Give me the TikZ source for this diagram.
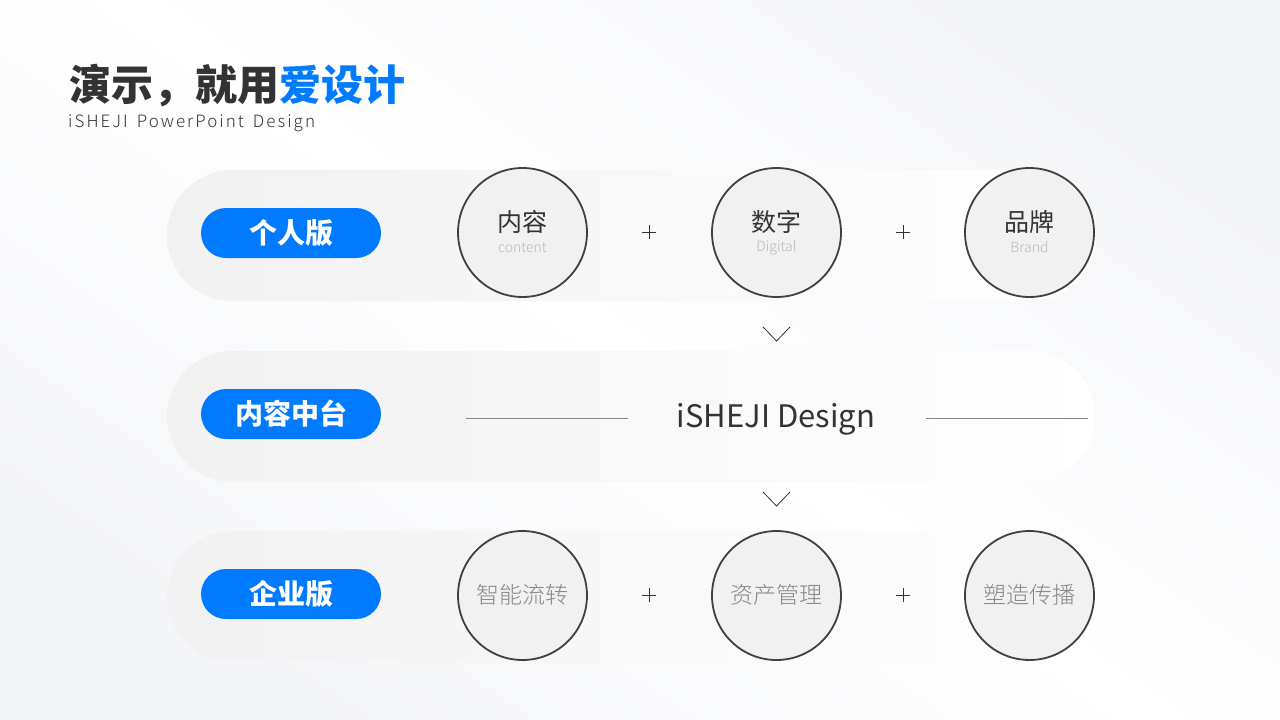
\documentclass[tikz,border=0pt]{standalone}
\usepackage{fontspec}
\setmainfont{Noto Sans CJK SC}
\newfontfamily\cjklight{Noto Sans CJK SC Light}
\definecolor{brand}{RGB}{0,122,255}
\definecolor{bgA}{RGB}{244,245,248}
\definecolor{bandL}{RGB}{241,241,242}
\definecolor{ring}{RGB}{64,64,64}
\definecolor{dark}{RGB}{51,51,51}
\definecolor{subgray}{RGB}{185,185,185}
\definecolor{midgray}{RGB}{135,135,135}
\tikzset{
  x=1pt, y=-1pt,
  band/.style={minimum width=928pt, minimum height=131pt, rounded corners=65.5pt, inner sep=0pt, left color=bandL, right color=white, draw=none},
  pill/.style={minimum width=180pt, minimum height=50pt, rounded corners=25pt, fill=brand, text=white, inner sep=0pt, font=\fontsize{28}{30}\selectfont\bfseries},
  ball/.style={circle, minimum size=129pt, inner sep=0pt, fill=bandL, draw=ring, line width=1.8pt},
  cn/.style={text=dark, inner sep=0pt, font=\fontsize{25}{27}\selectfont},
  en/.style={text=subgray, inner sep=0pt, font=\cjklight\fontsize{14}{16}\selectfont},
  cn3/.style={text=midgray, inner sep=0pt, font=\cjklight\fontsize{23}{25}\selectfont},
  plusline/.style={draw=dark, line width=0.9pt},
  chev/.style={draw=dark, line width=0.8pt},
  rule/.style={draw=midgray, line width=0.8pt}
}
\begin{document}
\begin{tikzpicture}
% background
\useasboundingbox (0,0) rectangle (1280,720);
\shade[top color=bgA, bottom color=bgA, middle color=white, shading angle=-35] (0,0) rectangle (1280,720);
% title
\node[anchor=base west, inner sep=0pt, text=dark, font=\fontsize{42}{44}\selectfont\bfseries] (title) at (69,100) {演示，就用\textcolor{brand}{爱设计}};
\node[anchor=base west, inner sep=0pt, text=dark, font=\cjklight\fontsize{17}{19}\selectfont\addfontfeature{LetterSpace=12}] (subtitle) at (68,127) {iSHEJI\hspace{9pt}PowerPoint\hspace{9pt}Design};
% bands
\node[band] (b1) at (631,235.5) {};
\node[band] (b2) at (631,416.5) {};
\node[band] (b3) at (631,596.5) {};
% pills
\node[pill] (p1) at (291,233) {个人版};
\node[pill] (p2) at (291,414) {内容中台};
\node[pill] (p3) at (291,594) {企业版};
% row 1 circles
\node[ball] (c11) at (522.5,232.5) {};
\node[ball] (c12) at (776.5,232.5) {};
\node[ball] (c13) at (1029.5,232.5) {};
\node[cn] (t11) at (522.5,222) {内容};
\node[en] (e11) at (522.5,247.5) {content};
\node[cn] (t12) at (776.5,222) {数字};
\node[en] (e12) at (776.5,247.5) {Digital};
\node[cn] (t13) at (1029.5,222) {品牌};
\node[en] (e13) at (1029.5,247.5) {Brand};
% row 3 circles
\node[ball] (c31) at (522.5,595.5) {};
\node[ball] (c32) at (776.5,595.5) {};
\node[ball] (c33) at (1029.5,595.5) {};
\node[cn3] (t31) at (522.5,595) {智能流转};
\node[cn3] (t32) at (776.5,595) {资产管理};
\node[cn3] (t33) at (1029.5,595) {塑造传播};
% plus signs
\foreach \px/\py in {649/232, 903/232, 649/595, 903/595}{
  \draw[plusline] (\px-7,\py) -- (\px+7,\py);
  \draw[plusline] (\px,\py-7) -- (\px,\py+7);
}
% chevrons
\draw[chev] (763,327) -- (776.5,341) -- (790,327);
\draw[chev] (763,492) -- (776.5,506) -- (790,492);
% row 2 text and rules
\node[text=dark, inner sep=0pt, font=\fontsize{31}{33}\selectfont] (mid) at (776,419) {iSHEJI Design};
\coordinate (l1) at (466,418.5);
\coordinate (l2) at (628,418.5);
\coordinate (r1) at (926,418.5);
\coordinate (r2) at (1088,418.5);
\draw[rule] (l1) -- (l2);
\draw[rule] (r1) -- (r2);
\end{tikzpicture}
\end{document}
